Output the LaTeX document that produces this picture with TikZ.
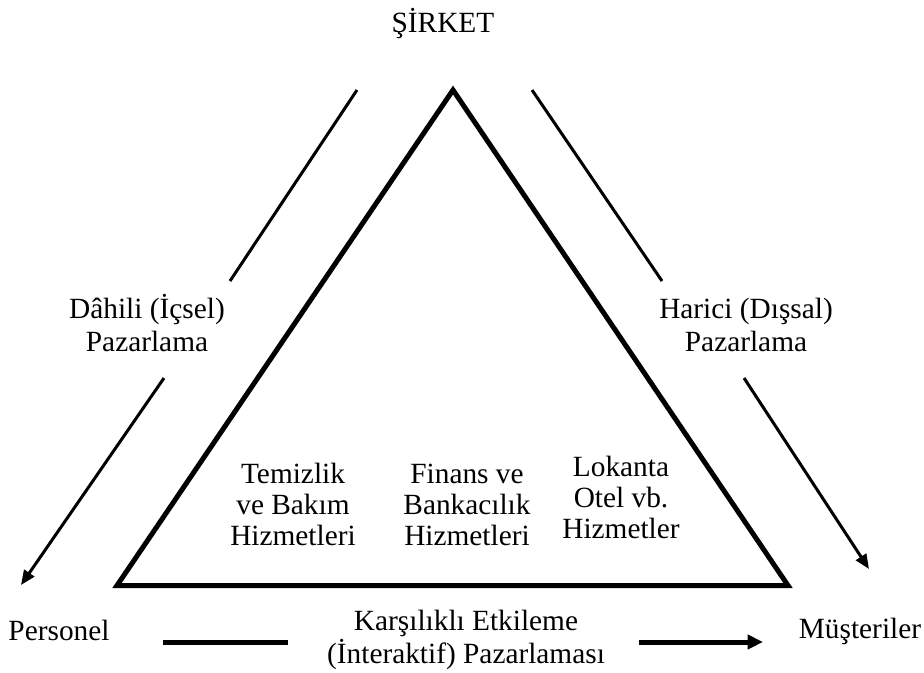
\documentclass[tikz,border=0pt]{standalone}
\usepackage{fontspec}
\setmainfont{Liberation Serif}
\usetikzlibrary{arrows.meta}
\begin{document}
\begin{tikzpicture}[x=0.75pt,y=-0.75pt,
  lbl/.style={font=\fontsize{22}{24.5}\selectfont, inner sep=0pt, anchor=base, align=center},
  inner/.style={lbl, font=\fontsize{22}{23}\selectfont},
  thick line/.style={line width=3.75pt},
  thin line/.style={line width=2.25pt},
  tip/.style={-{Triangle[length=11pt,width=9pt]}},
  bigtip/.style={-{Triangle[length=11.5pt,width=10.5pt]}}]
\useasboundingbox (0,0) rectangle (924,672);

% corners of the service triangle
\coordinate (apex) at (453,90);
\coordinate (bl) at (117,585.5);
\coordinate (br) at (788,585.5);
\draw[thick line, line join=miter] (apex) -- (br) -- (bl) -- cycle;

% labels (multi-line labels are placed by the baseline of their last line)
\node[lbl] (sirket) at (443,32) {ŞİRKET};
\node[lbl] (dahili) at (147,351) {Dâhili (İçsel)\\Pazarlama};
\node[lbl] (harici) at (746,351) {Harici (Dışsal)\\Pazarlama};
\node[inner] (temizlik) at (293,545) {Temizlik\\ve Bakım\\Hizmetleri};
\node[inner] (finans) at (467,545) {Finans ve\\Bankacılık\\Hizmetleri};
\node[inner] (lokanta) at (621,538) {Lokanta\\Otel vb.\\Hizmetler};
\node[lbl] (personel) at (59,640) {Personel};
\node[lbl] (karsilikli) at (466,663) {Karşılıklı Etkileme\\(İnteraktif) Pazarlaması};
\node[lbl] (musteriler) at (860,638) {Müşteriler};

% internal marketing: company to staff
\coordinate (lu1) at (357,90);
\coordinate (lu2) at (230,281);
\coordinate (ll1) at (164,378);
\coordinate (ll2) at (21,585);
\draw[thin line] (lu1) -- (lu2);
\draw[thin line, tip] (ll1) -- (ll2);

% external marketing: company to customers
\coordinate (ru1) at (532,90);
\coordinate (ru2) at (662,281);
\coordinate (rl1) at (744,378);
\coordinate (rl2) at (869,569);
\draw[thin line] (ru1) -- (ru2);
\draw[thin line, tip] (rl1) -- (rl2);

% interactive marketing: staff to customers
\coordinate (b1) at (163,642);
\coordinate (b2) at (288,642);
\coordinate (b3) at (639,642);
\coordinate (b4) at (763,642);
\draw[thick line] (b1) -- (b2);
\draw[thick line, bigtip] (b3) -- (b4);
\end{tikzpicture}
\end{document}
